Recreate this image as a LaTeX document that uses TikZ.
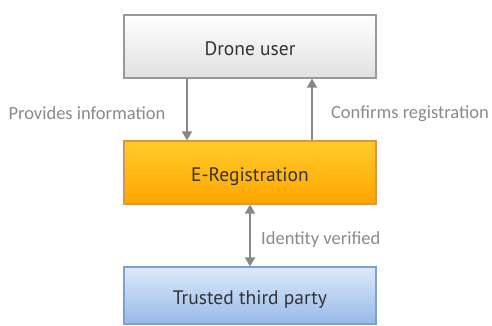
\documentclass[tikz,border=0pt]{standalone}
\usepackage{fontspec}
\setmainfont{Carlito}
\newfontfamily\boxfont{PT Sans}
\usetikzlibrary{arrows.meta}
\definecolor{arrgray}{HTML}{888888}
\definecolor{lblgray}{HTML}{8A8A8A}
\tikzset{
  box/.style={draw, line width=1.2pt, minimum width=252pt, minimum height=63pt, inner sep=0pt, text height=17.5pt, text depth=0pt, font=\boxfont\fontsize{19.5}{23}\selectfont, text=black!80},
  graybox/.style={box, draw=black!40, top color=white, bottom color=black!12},
  orangebox/.style={box, draw=orange!80!black!70, top color={rgb,255:red,255;green,204;blue,44}, bottom color={rgb,255:red,255;green,165;blue,0}},
  bluebox/.style={box, draw={rgb,255:red,127;green,160;blue,210}, top color={rgb,255:red,222;green,234;blue,251}, bottom color={rgb,255:red,150;green,185;blue,232}},
  conn/.style={draw=arrgray, line width=2pt, -{Triangle[length=9pt,width=10pt]}},
  dconn/.style={draw=arrgray, line width=2pt, {Triangle[length=9pt,width=10pt]}-{Triangle[length=9pt,width=10pt]}},
  lbl/.style={text=lblgray, font=\fontsize{18.5}{22}\selectfont, inner sep=0pt}
}
\begin{document}
\begin{tikzpicture}[x=1pt,y=-1pt]
\useasboundingbox (0,0) rectangle (492,325);
\node[graybox] (user) at (250,46.5) {Drone user};
\node[orangebox] (reg) at (250,172.5) {E-Registration};
\node[bluebox, minimum height=57pt] (ttp) at (250,295.5) {Trusted third party};
\draw[conn] (user.south -| 187,0) -- (reg.north -| 187,0);
\draw[conn] (reg.north -| 312,0) -- (user.south -| 312,0);
\draw[dconn] (reg.south) -- (ttp.north);
\node[lbl] (l1) at (87,113.5) {Provides information};
\node[lbl] (l2) at (410,113.5) {Confirms registration};
\node[lbl, anchor=west] (l3) at (261,239.5) {Identity verified};
\end{tikzpicture}
\end{document}
